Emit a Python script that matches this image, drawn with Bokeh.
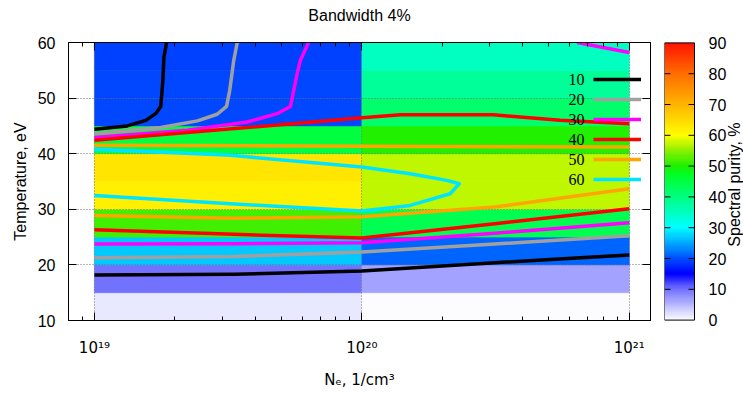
import numpy as np
from bokeh.plotting import figure
from bokeh.models import (FixedTicker, LogAxis, LinearAxis, LinearColorMapper, Legend,
                          LegendItem, LabelSet, CustomJSTickFormatter,
                          ColumnDataSource, Range1d)
from bokeh.core.properties import value
from bokeh.layouts import row
from bokeh.embed import file_html
from bokeh.resources import INLINE

# ---------------- data ----------------
title_text = "Bandwidth 4%"
ne_edges = [1e19, 1e20, 1e21]                      # cell edges, 1/cm3
te_edges = [10, 15, 20, 25, 30, 35, 40, 45, 50, 55, 60]  # cell edges, eV
# spectral purity (%) of each cell, rows from Te=10-15 up to 55-60
purity_col1 = [1.5, 10.0, 27.0, 51.5, 62.0, 63.6, 45.0, 19.5, 19.5, 19.0]   # Ne 1e19-1e20
purity_col2 = [0.0, 6.6, 21.1, 43.8, 57.2, 57.2, 50.0, 41.5, 38.3, 35.1]    # Ne 1e20-1e21

levels = [10, 20, 30, 40, 50, 60]
level_colors = ["#000000", "#a0a0a0", "#ff00ff", "#ff0000", "#ffa500", "#00e5ff"]

# contour lines: log10(Ne) and Te for each segment
c10_lgne = [[19.0, 19.123, 19.192, 19.229, 19.248, 19.256, 19.260, 19.270],
            [19.0, 19.521, 20.0, 20.497, 21.0]]
c10_te = [[44.4, 45.0, 46.0, 47.2, 48.5, 53.2, 57.4, 60.0],
          [18.2, 18.3, 18.9, 20.4, 21.8]]
c20_lgne = [[19.0, 19.248, 19.385, 19.459, 19.494, 19.506, 19.521, 19.534],
            [19.0, 19.521, 20.0, 20.497, 21.0]]
c20_te = [[43.6, 44.7, 45.9, 47.1, 48.5, 51.4, 56.8, 60.0],
          [21.3, 21.5, 22.3, 23.75, 25.25]]
c30_lgne = [[19.0, 19.347, 19.571, 19.683, 19.733, 19.758, 19.770, 19.801],
            [20.805, 21.0],
            [19.0, 19.521, 20.0, 20.497, 21.0]]
c30_te = [[42.9, 44.2, 45.7, 47.2, 48.5, 54.4, 56.8, 60.0],
          [60.0, 58.2],
          [23.75, 23.8, 24.0, 25.7, 27.6]]
c40_lgne = [[19.0, 20.0, 20.145, 20.492, 20.741, 21.0],
            [19.0, 19.521, 20.0, 20.497, 21.0]]
c40_te = [[42.4, 46.45, 47.0, 47.0, 46.0, 45.4],
          [26.3, 25.5, 24.85, 27.4, 30.1]]
c50_lgne = [[19.0, 20.0, 21.0],
            [19.0, 19.521, 20.0, 20.497, 21.0]]
c50_te = [[41.5, 41.35, 41.2],
          [28.9, 28.4, 28.65, 30.4, 33.7]]
c60_lgne = [[19.0, 19.509, 20.0, 20.181, 20.318, 20.364, 20.330, 20.181, 20.0, 19.509, 19.0]]
c60_te = [[40.8, 39.7, 37.6, 36.4, 35.2, 34.6, 32.8, 30.7, 29.7, 31.0, 32.5]]

contour_lgne = [c10_lgne, c20_lgne, c30_lgne, c40_lgne, c50_lgne, c60_lgne]
contour_te = [c10_te, c20_te, c30_te, c40_te, c50_te, c60_te]

ne_ticks = [1e19, 1e20, 1e21]
ne_tick_labels = ["10\u00b9\u2079", "10\u00b2\u2070", "10\u00b2\u00b9"]
te_ticks = [10, 20, 30, 40, 50, 60]
cb_low, cb_high = 0, 90
cb_ticks = [0, 10, 20, 30, 40, 50, 60, 70, 80, 90]
cb_label = "Spectral purity, %"

FONT = "Liberation Sans"
FONT2 = "DejaVu Sans"   # for texts with super/subscripts

# ---------------- colour map (style) ----------------
stops = [(0, (252, 252, 255)), (10, (112, 112, 255)), (15, (0, 0, 255)), (20, (0, 80, 255)),
         (25, (0, 170, 255)), (30, (0, 255, 255)), (40, (0, 255, 128)), (47, (0, 255, 40)),
         (50, (30, 240, 0)), (55, (140, 240, 0)), (60, (255, 255, 0)), (70, (255, 180, 0)),
         (80, (255, 110, 0)), (90, (255, 20, 0))]
sv = [s[0] for s in stops]
vv = np.linspace(cb_low, cb_high, 256)
rr = np.interp(vv, sv, [s[1][0] for s in stops])
gg = np.interp(vv, sv, [s[1][1] for s in stops])
bb = np.interp(vv, sv, [s[1][2] for s in stops])
palette = ["#%02x%02x%02x" % (int(round(a)), int(round(b)), int(round(c))) for a, b, c in zip(rr, gg, bb)]
mapper = LinearColorMapper(palette=palette, low=cb_low, high=cb_high)

# ---------------- main plot ----------------
p = figure(width=657, height=392, x_axis_type="log",
           x_range=Range1d(8e18, 1.2e21), y_range=Range1d(10, 60),
           output_backend="svg", toolbar_location=None,
           min_border_left=68, min_border_right=7, min_border_top=42, min_border_bottom=72)
p.outline_line_color = "black"

cells = dict(l=[], r=[], b=[], t=[], v=[])
for j, col in enumerate([purity_col1, purity_col2]):
    for i, val in enumerate(col):
        cells["l"].append(ne_edges[j])
        cells["r"].append(ne_edges[j + 1])
        cells["b"].append(te_edges[i])
        cells["t"].append(te_edges[i + 1])
        cells["v"].append(val)
qr = p.quad(left="l", right="r", bottom="b", top="t", source=ColumnDataSource(cells),
            fill_color={"field": "v", "transform": mapper},
            line_color={"field": "v", "transform": mapper}, line_width=0.6)
qr.level = "image"

# grid (dotted, drawn over the colour cells)
p.xgrid.ticker = FixedTicker(ticks=ne_ticks)
p.ygrid.ticker = FixedTicker(ticks=te_ticks)
for g in (p.xgrid[0], p.ygrid[0]):
    g.grid_line_color = "#707070"
    g.grid_line_dash = "1 2"
    g.grid_line_width = 1
    g.level = "underlay"

# contours
contour_renderers = []
for lg, te, col in zip(contour_lgne, contour_te, level_colors):
    xs = [[10.0 ** v for v in seg] for seg in lg]
    r = p.multi_line(xs=xs, ys=te, line_color=col, line_width=3.5, line_join="round")
    contour_renderers.append(r)

# legend: line samples (Bokeh legend) + numbers to their left
legend = Legend(items=[LegendItem(label=" ", renderers=[r]) for r in contour_renderers],
                location=(525, 131), glyph_width=48, glyph_height=20, spacing=0,
                padding=0, margin=0, label_standoff=0, label_width=1, label_height=1,
                label_text_font_size="1px", label_text_alpha=0,
                background_fill_alpha=0, border_line_alpha=0)
p.add_layout(legend)
legend_y = [53.4, 49.8, 46.2, 42.6, 39.0, 35.4]
lab_src = ColumnDataSource(dict(x=[10.0 ** 20.832] * len(levels), y=legend_y,
                                text=[str(v) for v in levels]))
p.add_layout(LabelSet(x="x", y="y", text="text", source=lab_src, text_align="right",
                      text_baseline="middle", text_font=FONT, text_font_size="16px",
                      text_color="black"))

# axes
minor_x = [9e18] + [float(m) * 10.0 ** e for e in (19, 20) for m in range(2, 10)]
xa = p.xaxis[0]
xa.ticker = FixedTicker(ticks=ne_ticks, minor_ticks=minor_x)
xa.formatter = CustomJSTickFormatter(args=dict(tv=ne_ticks, tl=ne_tick_labels), code="""
for (let i = 0; i < tv.length; i++) {
  if (Math.abs(Math.log10(tick) - Math.log10(tv[i])) < 1e-6) return tl[i];
}
return '';
""")
xa.axis_label = "N\u2091, 1/cm\u00b3"
xa.major_label_standoff = 18
xa.axis_label_standoff = 11
xa.major_label_text_font = FONT2
xa.major_label_text_font_size = "15px"
xa.axis_label_text_font = FONT2
xa.axis_label_text_font_size = "15px"

ya = p.yaxis[0]
ya.ticker = FixedTicker(ticks=te_ticks, minor_ticks=[])
ya.axis_label = "Temperature, eV"
ya.major_label_standoff = 13
ya.axis_label_standoff = 6
ya.major_label_text_font = FONT
ya.major_label_text_font_size = "16px"
ya.axis_label_text_font = FONT
ya.axis_label_text_font_size = "16px"

for ax in (xa, ya):
    ax.major_label_text_color = "black"
    ax.axis_label_text_font_style = "normal"
    ax.axis_label_text_color = "black"

# mirror axes (ticks only); the top one carries the title text as its label
top_ax = LogAxis(ticker=FixedTicker(ticks=ne_ticks, minor_ticks=minor_x))
right_ax = LinearAxis(ticker=FixedTicker(ticks=te_ticks, minor_ticks=[]))
for ax in (top_ax, right_ax):
    ax.major_label_text_font_size = "1px"
    ax.major_label_text_alpha = 0
    ax.major_label_standoff = 0
top_ax.axis_label = title_text
top_ax.axis_label_text_font = FONT
top_ax.axis_label_text_font_size = "16px"
top_ax.axis_label_text_font_style = "normal"
top_ax.axis_label_text_color = "black"
top_ax.axis_label_standoff = 19
p.add_layout(top_ax, "above")
p.add_layout(right_ax, "right")

for ax in (xa, ya, top_ax, right_ax):
    ax.axis_line_color = "black"
    ax.major_tick_line_color = "black"
    ax.minor_tick_line_color = "black"
    ax.major_tick_in = 8
    ax.major_tick_out = 0
    ax.minor_tick_in = 4
    ax.minor_tick_out = 0

# ---------------- colour bar (own small plot; bar occupies x 0..1) ----------------
CB_PX = 30.0           # bar width in px
can_unalign = "frame_align" in p.properties()
if can_unalign:
    p.frame_align = False
    cb_yr = Range1d(-5, 95)
    cb_borders = dict(min_border_top=27, min_border_bottom=57)
else:
    cb_yr = Range1d(cb_low, cb_high)
    cb_borders = dict(min_border_top=42, min_border_bottom=72)
p2 = figure(width=86, height=392, x_range=Range1d(0, 79 / CB_PX), y_range=cb_yr,
            output_backend="svg", toolbar_location=None,
            min_border_left=7, min_border_right=0, x_axis_location=None, y_axis_location=None,
            **cb_borders)
if can_unalign:
    p2.frame_align = False
p2.outline_line_color = None
p2.xgrid.visible = False
p2.ygrid.visible = False
grad = np.linspace(cb_low, cb_high, 256).reshape(256, 1)
p2.image(image=[grad], x=0, y=cb_low, dw=1, dh=cb_high - cb_low, color_mapper=mapper)
p2.quad(left=[0], right=[1], bottom=[cb_low], top=[cb_high], fill_color=None,
        line_color="black", line_width=1)
inner = cb_ticks[1:-1]
tick_len = 6 / CB_PX
p2.segment(x0=[0] * len(inner), y0=inner, x1=[tick_len] * len(inner), y1=inner,
           line_color="black", line_width=1)
p2.segment(x0=[1 - tick_len] * len(inner), y0=inner, x1=[1] * len(inner), y1=inner,
           line_color="black", line_width=1)
p2.text(x=[44 / CB_PX] * len(cb_ticks), y=cb_ticks, text=[str(t) for t in cb_ticks],
        text_font=value(FONT), text_font_size=value("16px"), text_color="black",
        text_align="left", text_baseline="middle")
p2.text(x=[61 / CB_PX], y=[(cb_low + cb_high) / 2 - 1], text=[cb_label], angle=np.pi / 2,
        text_font=value(FONT), text_font_size=value("16px"), text_color="black",
        text_align="center", text_baseline="top")

layout = row(p, p2)
open("out.html", "w").write(file_html(layout, INLINE))
